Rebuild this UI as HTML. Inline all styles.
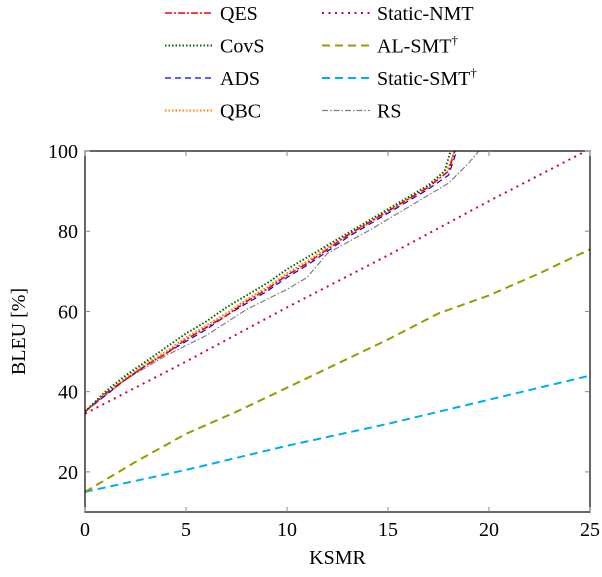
<!DOCTYPE html>
<html><head><meta charset="utf-8"><style>
body{margin:0;background:#fff}
svg text{font-family:"Liberation Serif",serif;fill:#000}
</style></head><body>
<svg id="c" width="602" height="572" xmlns="http://www.w3.org/2000/svg"></svg>
<script>
const xTicks=[0,5,10,15,20,25];
const yTicks=[20,40,60,80,100];
const seriesNames=["QES","CovS","ADS","QBC","Static-NMT","AL-SMT","Static-SMT","RS"];
const qesX=[0,1,2,3,4,5,6,7,8,9,10,11,12,13,14,15,16,17,18,18.3];
const qesY=[35,39.5,43,46.5,49.5,53,56,59,62.5,65.5,69,72,75.5,79,82,85,88,91,95,100];
const covsX=[0,1,2,3,4,5,6,7,8,9,10,11,12,13,14,15,16,17,17.8,18.1];
const covsY=[35,40,44,47.5,51,54.5,57.5,61,64,67,70.5,73.5,76.5,79.5,82.5,85.5,88.5,91.5,95,100];
const adsX=[0,1,2,3,4,5,6,7,8,9,10,11,12,13,14,15,16,17,18,18.4];
const adsY=[35,39,43,46.5,49.5,52.5,55.5,59,62,65,68.5,71.5,75,78.5,81.5,84.5,87.5,90.5,94,100];
const qbcX=[0,1,2,3,4,5,6,7,8,9,10,11,12,13,14,15,16,17,18,18.3];
const qbcY=[35,39.5,43.5,47,50,53.5,56.5,59.5,63,66,69.5,72.5,76,79,82,85,88,91,96,100];
const rsX=[0,2,4,6,8,10,11,12,14,16,18,19,19.5];
const rsY=[35,43,49,54,60.5,65.5,68.5,74.5,80,86,92,97,100];
const nmtX=[0,5,10,15,20,24.8];
const nmtY=[34.5,47.5,61,74,87.5,100];
const alX=[0,2.5,5,7.5,10,12.5,15,17.5,20,22.5,25];
const alY=[15,22.5,29.5,35,41,47,53,59.5,64,69.5,75.5];
const ssX=[0,5,10,15,20,25];
const ssY=[15,20.5,26.5,32,38,44];

const L=85,R=590,T=151,B=512;
const sx=v=>L+(v/25)*(R-L);
const sy=v=>B-(v-10)/90*(B-T);
const svg=document.getElementById('c');
const NS="http://www.w3.org/2000/svg";
function mk(tag,attrs,parent){const e=document.createElementNS(NS,tag);for(const k in attrs)e.setAttribute(k,attrs[k]);(parent||svg).appendChild(e);return e;}

const series=[
 {name:"static-smt",x:ssX,y:ssY,c:"#00aeef",w:2,d:"8,5"},
 {name:"al-smt",x:alX,y:alY,c:"#999900",w:2,d:"8,5"},
 {name:"static-nmt",x:nmtX,y:nmtY,c:"#cc0044",w:2,d:"2,4.5",cap:"round"},
 {name:"rs",x:rsX,y:rsY,c:"#808080",w:1.2,d:"6,2,1.5,2"},
 {name:"ads",x:adsX,y:adsY,c:"#0000ee",w:1.2,d:"6,4"},
 {name:"qbc",x:qbcX,y:qbcY,c:"#ff8000",w:2,d:"1.5,2"},
 {name:"qes",x:qesX,y:qesY,c:"#ff0000",w:1.6,d:"7,2,2,2"},
 {name:"covs",x:covsX,y:covsY,c:"#006600",w:2,d:"1.5,2"}
];
mk('clipPath',{id:'clip'}).appendChild(Object.assign(document.createElementNS(NS,'rect'),{}));
const cr=svg.querySelector('#clip rect');cr.setAttribute('x',L);cr.setAttribute('y',T);cr.setAttribute('width',R-L);cr.setAttribute('height',B-T);
for(const s of series){
  const p=s.x.map((v,i)=>sx(v).toFixed(1)+","+sy(s.y[i]).toFixed(1)).join(" ");
  const e=mk('polyline',{points:p,fill:"none",stroke:s.c,"stroke-width":s.w,"stroke-dasharray":s.d,"clip-path":"url(#clip)"});
  
  
}
// frame
const fr=mk('rect',{x:L,y:T,width:R-L,height:B-T,fill:"none",stroke:"#000","stroke-width":1.2});


for(const t of xTicks){
  mk('line',{x1:sx(t),x2:sx(t),y1:B,y2:B-5,stroke:"#888"});
  mk('line',{x1:sx(t),x2:sx(t),y1:T,y2:T+5,stroke:"#888"});
  const tx=mk('text',{x:sx(t),y:B+24,"text-anchor":"middle","font-size":20});tx.textContent=t;
  
  
}
for(const t of yTicks){
  mk('line',{x1:L,x2:L+5,y1:sy(t),y2:sy(t),stroke:"#888"});
  mk('line',{x1:R,x2:R-5,y1:sy(t),y2:sy(t),stroke:"#888"});
  const ty=mk('text',{x:L-7,y:sy(t)+7,"text-anchor":"end","font-size":20});ty.textContent=t;
  
  
}
const xt=mk('text',{x:(L+R)/2,y:564,"text-anchor":"middle","font-size":20});xt.textContent="KSMR";


const yt=mk('text',{x:0,y:0,"text-anchor":"middle","font-size":20,transform:`translate(25,${(T+B)/2}) rotate(-90)`});yt.textContent="BLEU [%]";


// legend
const leg=[["QES","qes",0,0],["CovS","covs",0,1],["ADS","ads",0,2],["QBC","qbc",0,3],["Static-NMT","static-nmt",1,0],["AL-SMT†","al-smt",1,1],["Static-SMT†","static-smt",1,2],["RS","rs",1,3]];
for(const [lab,key,col,row] of leg){
  const s=series.find(q=>q.name===key);
  const x0=col?322:165, y0=13+row*32.5;
  const g=mk('g',{});
  
  
  mk('line',{x1:x0,x2:x0+48,y1:y0,y2:y0,stroke:s.c,"stroke-width":s.w,"stroke-dasharray":s.d},g);
  const t=mk('text',{x:x0+55,y:y0+7,"font-size":20},g);
  if(lab.endsWith('†')){t.textContent=lab.slice(0,-1);const ts=mk('tspan',{dy:-8,"font-size":13},t);ts.textContent='†';}
  else t.textContent=lab;
}
</script>
</body></html>
